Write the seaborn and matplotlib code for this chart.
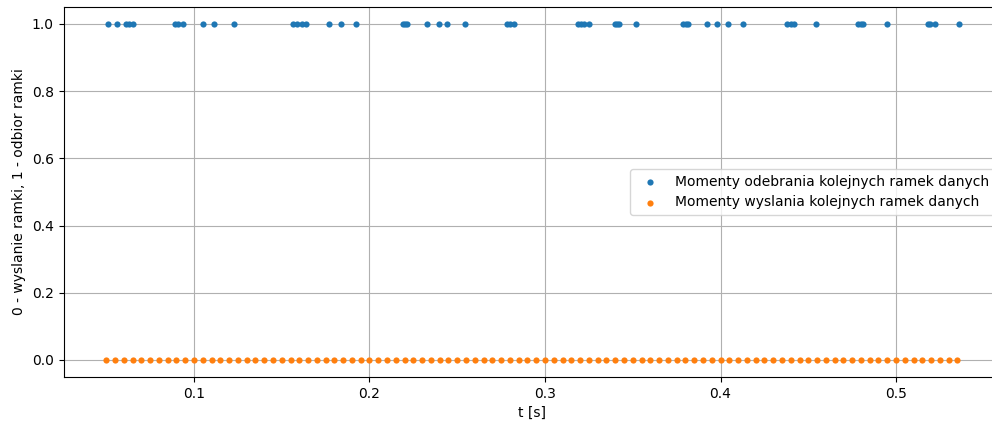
import numpy as np
import pandas as pd
import matplotlib
matplotlib.use("Agg")
import matplotlib.pyplot as plt
import seaborn as sns

# Moments at which consecutive data frames were received (value 1)
t_received = [
    0.0512, 0.0560, 0.0613, 0.0631, 0.0654, 0.0892, 0.0909, 0.0936, 0.1053,
    0.1116, 0.1230, 0.1566, 0.1589, 0.1614, 0.1636, 0.1771, 0.1838, 0.1923,
    0.2189, 0.2202, 0.2215, 0.2326, 0.2396, 0.2443, 0.2542, 0.2782, 0.2801,
    0.2822, 0.3186, 0.3203, 0.3224, 0.3252, 0.3399, 0.3412, 0.3423, 0.3519,
    0.3788, 0.3803, 0.3817, 0.3923, 0.3980, 0.4043, 0.4130, 0.4381, 0.4400,
    0.4421, 0.4542, 0.4782, 0.4799, 0.4814, 0.4947, 0.5181, 0.5194, 0.5224,
    0.5357,
]
# Moments at which consecutive data frames were sent (value 0), every 5 ms
t_sent = [
    0.050, 0.055, 0.060, 0.065, 0.070, 0.075, 0.080, 0.085, 0.090, 0.095,
    0.100, 0.105, 0.110, 0.115, 0.120, 0.125, 0.130, 0.135, 0.140, 0.145,
    0.150, 0.155, 0.160, 0.165, 0.170, 0.175, 0.180, 0.185, 0.190, 0.195,
    0.200, 0.205, 0.210, 0.215, 0.220, 0.225, 0.230, 0.235, 0.240, 0.245,
    0.250, 0.255, 0.260, 0.265, 0.270, 0.275, 0.280, 0.285, 0.290, 0.295,
    0.300, 0.305, 0.310, 0.315, 0.320, 0.325, 0.330, 0.335, 0.340, 0.345,
    0.350, 0.355, 0.360, 0.365, 0.370, 0.375, 0.380, 0.385, 0.390, 0.395,
    0.400, 0.405, 0.410, 0.415, 0.420, 0.425, 0.430, 0.435, 0.440, 0.445,
    0.450, 0.455, 0.460, 0.465, 0.470, 0.475, 0.480, 0.485, 0.490, 0.495,
    0.500, 0.505, 0.510, 0.515, 0.520, 0.525, 0.530, 0.535,
]
y_received = [1] * len(t_received)
y_sent = [0] * len(t_sent)

label_received = "Momenty odebrania kolejnych ramek danych"
label_sent = "Momenty wyslania kolejnych ramek danych"

fig = plt.figure(figsize=(9.92, 4.26), dpi=100)
ax = fig.add_axes([0.0641, 0.1155, 0.9453, 0.8676])

sns.scatterplot(x=t_received, y=y_received, ax=ax, color="#1f77b4",
                s=20, linewidth=0, label=label_received, zorder=3)
sns.scatterplot(x=t_sent, y=y_sent, ax=ax, color="#ff7f0e",
                s=20, linewidth=0, label=label_sent, zorder=3)

ax.set_xticks([0.1, 0.2, 0.3, 0.4, 0.5])
ax.set_yticks([0.0, 0.2, 0.4, 0.6, 0.8, 1.0])
ax.set_xlabel("t [s]")
ax.set_ylabel("0 - wyslanie ramki, 1 - odbior ramki")
ax.grid(True, color="#b0b0b0", linewidth=0.8)
ax.set_axisbelow(True)
ax.legend(loc="center right")

fig.savefig("out.png", dpi=100)
